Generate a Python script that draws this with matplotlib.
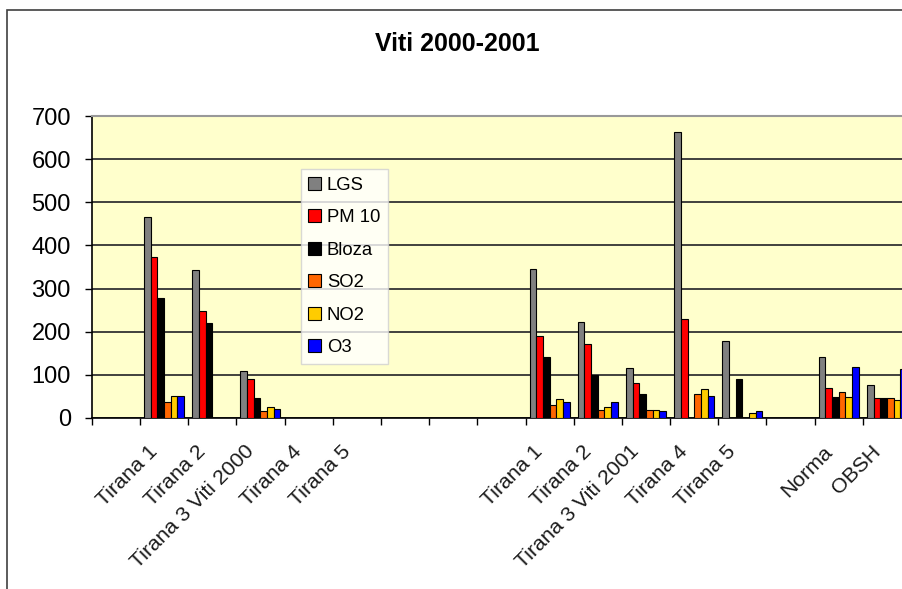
import numpy as np
import matplotlib
matplotlib.use("Agg")
import matplotlib.pyplot as plt
from matplotlib.patches import Rectangle

plt.rcParams['font.family'] = ['Liberation Sans', 'DejaVu Sans']

# categories along the x axis (blank slots are empty gaps in the chart)
categories = ['', 'Tirana 1', 'Tirana 2', 'Tirana 3 Viti 2000', 'Tirana 4', 'Tirana 5',
              '', '', '',
              'Tirana 1', 'Tirana 2', 'Tirana 3 Viti 2001', 'Tirana 4', 'Tirana 5',
              '', 'Norma', 'OBSH', '']

nan = np.nan
lgs   = [nan, 467, 343, 110, nan, nan, nan, nan, nan, 346, 223, 117, 662, 179, nan, 141, 77, nan]
pm10  = [nan, 373, 247,  90, nan, nan, nan, nan, nan, 190, 172,  80, 230, nan, nan,  70, 47, nan]
bloza = [nan, 279, 221,  46, nan, nan, nan, nan, nan, 142, 100,  55, nan,  91, nan,  49, 47, nan]
so2   = [nan,  36, nan,  16, nan, nan, nan, nan, nan,  29,  19,  19,  55, nan, nan,  61, 47, nan]
no2   = [nan,  52, nan,  26, nan, nan, nan, nan, nan,  45,  26,  19,  68,  12, nan,  48, 42, nan]
o3    = [nan,  52, nan,  22, nan, nan, nan, nan, nan,  36,  36,  16,  52,  16, nan, 119, 114, nan]

series = [('LGS', lgs, '#808080'),
          ('PM 10', pm10, '#FF0000'),
          ('Bloza', bloza, '#000000'),
          ('SO2', so2, '#FF6600'),
          ('NO2', no2, '#FFCC00'),
          ('O3', o3, '#0000FF')]

W, H = 902, 589
fig = plt.figure(figsize=(W / 100, H / 100), dpi=100)

# chart frame (runs off the right/bottom edge)
fig.patches.append(Rectangle((6.5 / W, -0.1), 1.2, 1.1 - 10 / H,
                             transform=fig.transFigure, fill=False,
                             edgecolor='#404040', linewidth=1.2))

n = len(categories)
cat_px = 48.2
left_px, bottom_px, top_px = 91.7, 418, 116
ax = fig.add_axes([left_px / W, (H - bottom_px) / H,
                   n * cat_px / W, (bottom_px - top_px) / H])
ax.set_facecolor('#FFFFCC')

x = np.arange(n)
group = 0.83
bw = group / len(series)
for i, (name, vals, col) in enumerate(series):
    offs = -group / 2 + bw * (i + 0.5)
    ax.bar(x + offs, vals, width=bw, color=col, edgecolor='black',
           linewidth=0.8, label=name, zorder=3)

ax.set_xlim(-0.5, n - 0.5)
ax.set_ylim(0, 700)
ax.set_yticks(range(0, 701, 100))
ax.yaxis.grid(True, color='#333333', linewidth=1.3, zorder=1)
ax.tick_params(axis='y', direction='out', length=5, width=1, labelsize=17, pad=10)

# category boundary tick marks, labels shifted slightly left of centre
ax.set_xticks(np.arange(n + 1) - 0.5, minor=True)
ax.tick_params(axis='x', which='minor', direction='out', length=5, width=1)
ax.set_xticks(x - 0.2)
ax.set_xticklabels(categories)
ax.tick_params(axis='x', which='major', length=0, pad=22, labelsize=15.3,
               labelcolor='#1a1a1a')
for lbl in ax.get_xticklabels():
    lbl.set_rotation(45)
    lbl.set_ha('right')
    lbl.set_va('center')
    lbl.set_rotation_mode('anchor')

for s in ['left', 'bottom']:
    ax.spines[s].set_color('black')
    ax.spines[s].set_linewidth(1.2)
ax.spines['top'].set_color('#999999')
ax.spines['top'].set_linewidth(1.5)
ax.spines['right'].set_visible(False)

fig.text(457 / W, 1 - 44 / H, 'Viti 2000-2001', ha='center', va='center',
         fontsize=18, fontweight='bold')

leg = ax.legend(loc='upper left', bbox_to_anchor=(300.7 / W, 1 - 169 / H),
                bbox_transform=fig.transFigure, borderaxespad=0,
                fontsize=13.3, frameon=True, fancybox=False, shadow=False,
                handlelength=0.7, handleheight=0.7, handletextpad=0.3,
                labelspacing=0.84, borderpad=0.42)
leg.get_frame().set_edgecolor('#D0D0D0')
leg.get_frame().set_facecolor('white')
leg.get_frame().set_linewidth(1.0)
leg.set_zorder(5)

fig.savefig('out.png', dpi=100)
